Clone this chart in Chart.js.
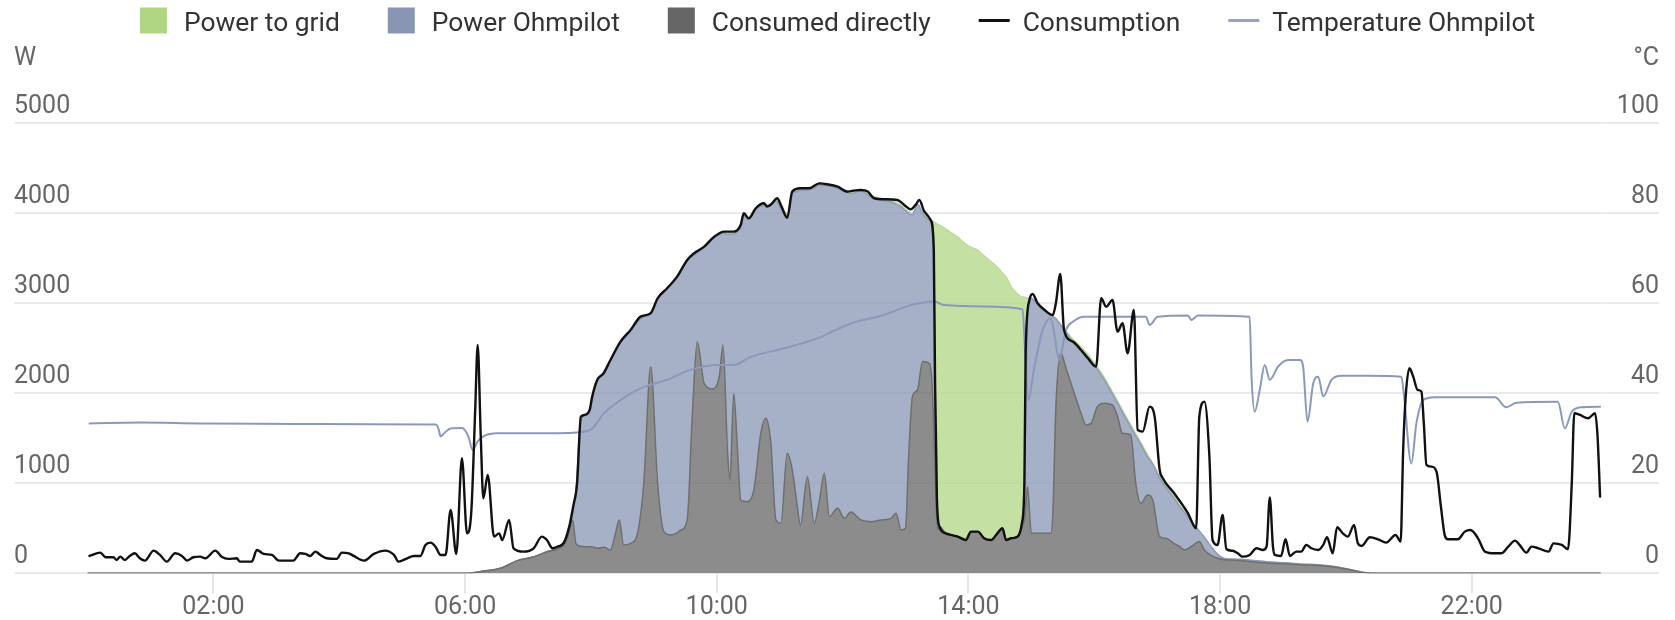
<!DOCTYPE html>
<html><head><meta charset="utf-8">
<script src="https://cdn.jsdelivr.net/npm/chart.js@4.4.1/dist/chart.umd.min.js"></script>
<style>html,body{margin:0;padding:0;background:#fff;overflow:hidden}canvas{display:block}</style>
</head><body>
<canvas id="c" width="1675" height="620"></canvas>
<script>
// ---- data (hours of day, W / °C) ----
const areaTimes = [0,6.0,6.3,6.56,6.83,7.1,7.3,7.47,7.57,7.63,
 7.71,7.76,7.84,7.9,7.98,8.05,8.1,8.21,8.31,8.39,
 8.45,8.52,8.63,8.74,8.84,8.95,9.06,9.16,9.27,9.37,
 9.43,9.53,9.61,9.69,9.80,9.93,10.04,10.1,10.17,10.21,
 10.27,10.33,10.38,10.43,10.49,10.59,10.70,10.78,10.86,10.94,
 11.02,11.12,11.2,11.27,11.33,11.44,11.55,11.63,11.71,11.79,
 11.92,12.03,12.13,12.29,12.45,12.61,12.77,12.85,12.93,13.0,
 13.05,13.11,13.19,13.27,13.38,13.43,13.47,13.51,13.54,13.64,
 13.72,13.83,13.96,14.04,14.15,14.25,14.36,14.46,14.54,14.60,
 14.68,14.78,14.85,14.89,14.94,15.0,15.10,15.21,15.31,15.34,
 15.39,15.47,15.55,15.63,15.79,15.87,15.95,16.05,16.16,16.29,
 16.37,16.45,16.58,16.66,16.74,16.85,16.93,17.04,17.14,17.27,
 17.36,17.43,17.54,17.67,17.75,17.86,17.96,18.07,18.33,18.49,
 18.81,19.03,19.29,19.56,19.82,20.09,20.25,20.46,24.04];
const consumedDirectly = [0,0,25,56,141,185,240,270,315,407,
 593,333,300,296,296,290,278,289,259,444,
 593,315,333,444,1000,2296,1000,463,426,450,
 481,593,1741,2574,2111,2050,2185,2537,1370,1037,
 2000,1370,815,800,796,926,1556,1722,1444,593,
 556,1333,1150,800,537,1074,556,800,1111,630,
 722,611,680,593,574,593,611,667,481,500,
 1300,1963,2037,2352,2333,2000,1100,481,519,444,
 426,407,370,463,463,389,370,444,500,370,
 389,407,519,600,963,444,444,444,444,630,
 1852,2444,2280,2111,1778,1648,1667,1852,1889,1870,
 1741,1556,1537,1000,778,870,815,407,389,330,
 296,259,296,352,259,200,167,150,141,130,
 111,105,93,88,70,35,11,0,0];
const powerOhmpilot = [0,0,0,0,0,0,0,8,18,73,
 67,567,1420,1454,1509,1730,1860,1931,2101,2016,
 1947,2285,2361,2346,1850,584,2046,2657,2774,2836,
 2879,2878,1784,986,1509,1660,1575,1243,2396,2729,
 1766,2430,3025,3180,3134,3094,2524,2358,2646,3547,
 3494,2637,3071,3440,3721,3184,3724,3513,3199,3672,
 3554,3629,3540,3654,3606,3554,3517,3433,3592,3530,
 2700,2017,2063,1647,1591,1900,400,60,0,0,
 0,0,0,0,0,0,0,0,0,0,
 0,0,0,400,1837,2612,2546,2486,2426,2225,
 978,315,400,489,712,782,693,414,261,120,
 149,229,88,525,652,420,395,653,566,502,
 444,421,284,118,141,96,43,15,15,15,
 15,12,10,8,6,4,2,0,0];
const powerToGrid = [0,0,0,0,0,0,0,0,0,0,
 0,0,20,10,10,10,10,10,10,10,
 10,10,10,10,10,10,10,10,10,10,
 10,10,10,10,10,10,10,10,30,30,
 30,30,30,20,20,20,20,20,20,20,
 30,30,20,20,20,20,20,20,20,20,
 20,20,20,20,20,20,20,20,20,20,
 20,20,0,20,20,15,2400,3340,3351,3386,
 3364,3333,3290,3162,3130,3141,3095,2963,2840,2926,
 2801,2703,2555,2070,260,0,0,0,0,0,
 0,0,20,30,30,30,30,30,30,30,
 30,30,30,30,30,30,20,20,20,20,
 20,10,10,0,0,0,0,0,0,0,
 0,0,0,0,0,0,0,0,0];

const consTimes = [0.03,0.20,0.29,0.41,0.46,0.52,0.59,0.67,0.75,0.83,
 0.91,1.05,1.15,1.26,1.39,1.50,1.58,1.68,1.79,1.87,
 2.03,2.13,2.24,2.37,2.42,2.61,2.69,2.80,2.93,3.04,
 3.27,3.38,3.46,3.54,3.62,3.70,3.80,3.96,4.04,4.15,
 4.23,4.39,4.55,4.73,4.87,4.94,5.08,5.18,5.29,5.37,
 5.45,5.53,5.61,5.69,5.77,5.86,5.95,6.03,6.10,6.16,
 6.20,6.25,6.29,6.36,6.46,6.54,6.59,6.70,6.77,6.93,
 7.09,7.22,7.30,7.39,7.47,7.57,7.65,7.72,7.78,7.84,
 7.90,7.98,8.02,8.10,8.20,8.31,8.47,8.63,8.79,8.95,
 9.06,9.21,9.37,9.53,9.64,9.80,9.96,10.12,10.27,10.38,
 10.43,10.51,10.62,10.75,10.80,10.88,10.96,11.03,11.12,11.20,
 11.33,11.47,11.63,11.76,11.92,12.08,12.20,12.29,12.40,12.50,
 12.66,12.87,12.98,13.08,13.16,13.22,13.30,13.40,13.45,13.47,
 13.50,13.54,13.64,13.72,13.83,13.96,14.04,14.15,14.25,14.36,
 14.46,14.54,14.60,14.68,14.78,14.85,14.89,14.91,14.97,15.02,
 15.10,15.21,15.34,15.39,15.46,15.52,15.66,15.79,15.90,16.03,
 16.11,16.19,16.29,16.37,16.45,16.53,16.63,16.69,16.77,16.88,
 16.96,17.04,17.09,17.27,17.49,17.62,17.67,17.75,17.83,17.88,
 17.96,18.04,18.10,18.20,18.28,18.36,18.47,18.58,18.68,18.74,
 18.79,18.84,18.87,18.97,19.04,19.11,19.21,19.29,19.37,19.45,
 19.56,19.64,19.70,19.79,19.86,19.95,20.03,20.13,20.19,20.25,
 20.38,20.51,20.64,20.79,20.87,20.91,20.95,21.01,21.07,21.14,
 21.20,21.24,21.28,21.36,21.44,21.51,21.57,21.62,21.78,21.89,
 21.98,22.10,22.21,22.37,22.47,22.58,22.69,22.76,22.87,22.95,
 23.06,23.22,23.30,23.43,23.53,23.59,23.63,23.72,23.85,23.96,
 24.00,24.04];
const consumption = [193,230,178,178,148,185,148,193,222,167,
 141,252,204,130,222,193,141,178,185,167,
 252,185,160,167,130,130,259,215,204,141,
 141,222,215,193,241,204,167,160,230,222,
 193,141,215,252,204,130,167,193,193,315,
 341,296,204,204,704,215,1278,444,700,1800,
 2537,1500,833,1093,407,444,370,593,278,241,
 278,407,370,278,296,340,500,750,1000,1740,
 1760,1815,1963,2148,2222,2370,2574,2704,2852,2890,
 3056,3167,3296,3481,3556,3630,3741,3796,3796,3870,
 4000,3944,4056,4111,4074,4111,4167,4074,3950,4241,
 4278,4278,4333,4322,4296,4241,4255,4259,4241,4167,
 4156,4148,4093,4044,4093,4148,4019,3926,3593,2111,
 815,519,444,426,407,370,463,463,389,370,
 444,500,370,389,407,556,1000,2481,3037,3104,
 3000,2926,2870,3000,3326,2704,2574,2481,2389,2296,
 3056,2963,3037,2685,2778,2444,2926,1593,1574,1852,
 1741,1148,1056,889,667,500,1741,1907,1300,370,
 315,648,270,250,222,185,204,278,259,300,
 844,300,204,193,378,193,241,241,315,278,
 259,315,400,222,511,444,407,537,333,304,
 400,378,341,426,352,1370,1963,2278,2185,2037,
 2019,1648,1204,1185,1130,741,426,378,378,463,
 481,389,241,222,222,296,363,315,230,296,
 278,241,333,315,267,1000,1778,1759,1722,1778,
 1519,852];

const tempTimes = [0.03,0.83,1.79,3.27,4.44,5.53,5.58,5.61,5.68,5.77,
 5.95,6.05,6.12,6.2,6.30,6.51,7.09,7.78,8.02,8.21,
 8.47,8.79,9.21,9.58,10.01,10.27,10.54,11.07,11.60,12.13,
 12.66,13.08,13.46,13.61,14.25,14.86,14.90,14.95,15.05,15.18,
 15.31,15.38,15.44,15.55,15.66,15.84,16.82,16.88,17.01,17.49,
 17.54,17.65,18.47,18.50,18.55,18.63,18.71,18.79,18.92,19.08,
 19.27,19.32,19.39,19.48,19.56,19.64,19.77,19.93,20.35,20.88,
 20.92,21.04,21.12,21.23,21.41,22.37,22.55,22.71,23.37,23.48,
 23.59,23.75,24.04];
const temperature = [33.3,33.5,33.3,33.2,33.1,33.05,32.0,30.4,31.3,32.2,
 32.3,30.5,27.4,29.3,30.5,31.1,31.1,31.3,32.2,35.6,
 38.5,41.1,43.0,45.2,46.3,46.3,48.1,50.0,52.2,55.5,
 57.4,59.6,60.4,59.6,59.3,58.7,49.6,38.5,45.9,54.1,
 56.7,51.9,47.4,54.1,55.9,57.0,57.0,55.2,57.0,57.3,
 56.3,57.3,57.0,43.7,35.9,40.7,46.3,43.0,45.9,47.4,
 47.4,45.9,33.7,42.2,43.7,39.3,43.0,43.9,43.9,43.7,
 40.0,24.4,33.3,38.5,39.1,39.1,36.9,37.9,38.1,32.2,
 35.9,36.9,37.0];

const xTickHours = [2,6,10,14,18,22];
const xTickLabels = ['02:00','06:00','10:00','14:00','18:00','22:00'];
const seriesLabels = ['Consumed directly','Power Ohmpilot','Power to grid','Consumption','Temperature Ohmpilot'];
const legendOrder = [2,1,0,3,4];
const powerUnit = 'W';
const tempUnit = '°C';

// ---- chart ----
const pts = (xs, ys) => xs.map((x, i) => ({x: x, y: ys[i]}));
Chart.defaults.font.family = 'Roboto';
Chart.defaults.font.size = 25;
Chart.defaults.color = '#666';

const gridColor = '#ebebeb';

const overlayPlugin = {
  id: 'overlay',
  afterDraw(chart) {
    const ctx = chart.ctx;
    ctx.save();
    ctx.font = '25px Roboto';
    ctx.textBaseline = 'alphabetic';
    ctx.fillStyle = '#666';
    ctx.textAlign = 'left';
    ctx.fillText(powerUnit, 14, 64.5);
    ctx.textAlign = 'right';
    ctx.fillText(tempUnit, 1659, 64.5);
    // legend
    ctx.font = '26.4px Roboto';
    ctx.textAlign = 'left';
    const spacing = 48;
    const items = legendOrder.map(i => {
      const ds = chart.data.datasets[i];
      const box = ds.legendSymbol === 'box';
      return {text: ds.label, color: ds.legendColor, box: box,
        sw: box ? 27 : 31, gap: box ? 17 : 13, tw: ctx.measureText(ds.label).width};
    });
    let total = spacing * (items.length - 1);
    items.forEach(it => { total += it.sw + it.gap + it.tw; });
    let x = (chart.width - total) / 2;
    items.forEach(it => {
      if (it.box) {
        ctx.fillStyle = it.color;
        ctx.fillRect(x, 7.5, it.sw, 26);
      } else {
        ctx.strokeStyle = it.color;
        ctx.lineWidth = 3;
        ctx.beginPath();
        ctx.moveTo(x, 20.5);
        ctx.lineTo(x + it.sw, 20.5);
        ctx.stroke();
      }
      ctx.fillStyle = '#333';
      ctx.fillText(it.text, x + it.sw + it.gap, 30.7);
      x += it.sw + it.gap + it.tw + spacing;
    });
    ctx.restore();
  }
};

new Chart(document.getElementById('c'), {
  type: 'line',
  data: {
    datasets: [
      {label: seriesLabels[0], data: pts(areaTimes, consumedDirectly), stack: 'power', order: 2,
       fill: 'origin', backgroundColor: 'rgba(102,102,102,0.75)', borderColor: '#6f6f6f', borderWidth: 1.5,
       legendColor: '#666666', legendSymbol: 'box', yAxisID: 'y'},
      {label: seriesLabels[1], data: pts(areaTimes, powerOhmpilot), stack: 'power', order: 3,
       fill: '-1', backgroundColor: 'rgba(136,150,179,0.75)', borderColor: '#8d9bb9', borderWidth: 1.5,
       legendColor: '#8896b3', legendSymbol: 'box', yAxisID: 'y'},
      {label: seriesLabels[2], data: pts(areaTimes, powerToGrid), stack: 'power', order: 4,
       fill: '-1', backgroundColor: 'rgba(176,214,131,0.75)', borderColor: '#b0d683', borderWidth: 1,
       legendColor: '#b0d683', legendSymbol: 'box', yAxisID: 'y'},
      {label: seriesLabels[3], data: pts(consTimes, consumption), stack: 'cons', order: 0,
       fill: false, borderColor: '#111111', borderWidth: 2.4,
       legendColor: '#111111', legendSymbol: 'line', yAxisID: 'y'},
      {label: seriesLabels[4], data: pts(tempTimes, temperature), order: 1,
       fill: false, borderColor: 'rgb(138,153,187)', borderWidth: 2,
       legendColor: 'rgb(150,163,194)', legendSymbol: 'line', yAxisID: 'y1'}
    ]
  },
  options: {
    responsive: false,
    animation: false,
    devicePixelRatio: 1,
    layout: {padding: {top: 123.3, left: 14, right: 16, bottom: 0}},
    elements: {
      point: {radius: 0, hoverRadius: 0},
      line: {cubicInterpolationMode: 'monotone', borderJoinStyle: 'round', borderCapStyle: 'round'}
    },
    plugins: {legend: {display: false}, tooltip: {enabled: false}},
    scales: {
      x: {
        type: 'linear', min: 0, max: 24.08,
        afterBuildTicks: s => { s.ticks = xTickHours.map(v => ({value: v})); },
        afterFit: s => { s.height = 46.7; },
        ticks: {autoSkip: false, maxRotation: 0, padding: -1,
          callback: v => xTickLabels[xTickHours.indexOf(v)]},
        grid: {drawOnChartArea: false, drawTicks: true, tickLength: 20, color: '#e6e6e6', lineWidth: 2},
        border: {display: false}
      },
      y: {
        position: 'left', stacked: true, min: 0, max: 5000,
        afterFit: s => { s.width = 73.6; },
        ticks: {stepSize: 1000, crossAlign: 'far', labelOffset: -17, padding: 0,
          callback: v => String(v)},
        grid: {color: gridColor, lineWidth: 2, drawTicks: true, tickLength: 73.6},
        border: {display: false}
      },
      y1: {
        position: 'right', min: 0, max: 100,
        afterFit: s => { s.width = 56.4; },
        ticks: {stepSize: 20, crossAlign: 'far', labelOffset: -17, padding: 0,
          callback: v => String(v)},
        grid: {drawOnChartArea: false, color: gridColor, lineWidth: 2, drawTicks: true, tickLength: 56.4},
        border: {display: false}
      }
    }
  },
  plugins: [overlayPlugin]
});
</script>
</body></html>
